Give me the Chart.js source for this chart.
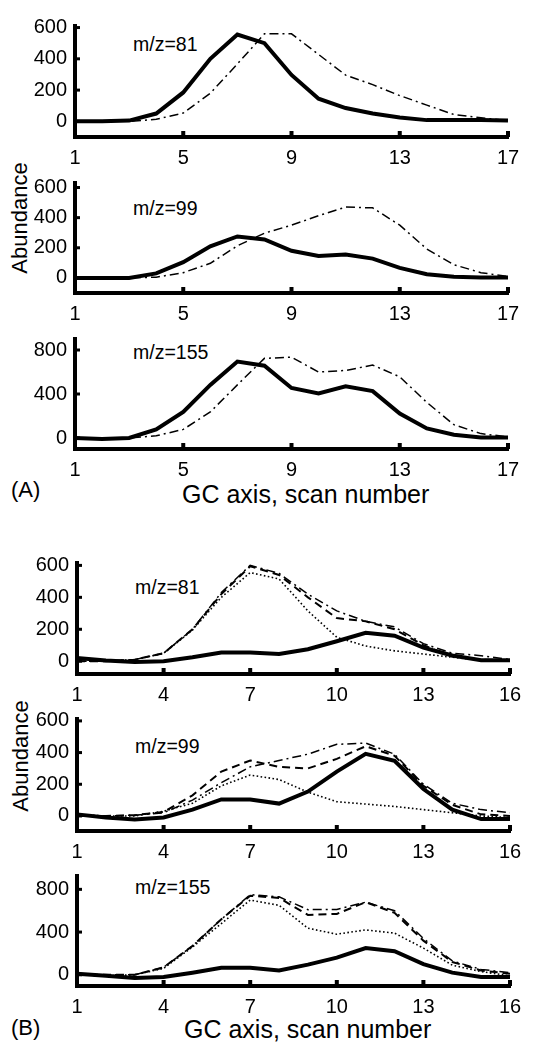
<!DOCTYPE html>
<html>
<head>
<meta charset="utf-8">
<title>GC scans</title>
<script src="https://cdn.jsdelivr.net/npm/chart.js"></script>
<style>
	body {
		margin: 0;
		width: 536px;
		height: 1042px;
		position: relative;
		background: #fff;
		font-family: 'Liberation Sans', Arial, sans-serif;
		color: #000;
		overflow: hidden;
	}
	canvas {
		position: absolute;
		left: 0;
	}
	.txt {
		position: absolute;
		line-height: 1;
		white-space: nowrap;
		transform: translateY(-50%);
	}
	.mz { font-size: 19.5px; }
	.ylab {
		font-size: 22px;
		transform: translate(-50%, -50%) rotate(-90deg);
	}
	.xlab { font-size: 25px; }
	.tag { font-size: 22px; }
</style>
</head>
<body>
<div class="txt mz" style="left:133px;top:45px">m/z=81</div>
<div class="txt mz" style="left:133px;top:209px">m/z=99</div>
<div class="txt mz" style="left:133px;top:353px">m/z=155</div>
<div class="txt ylab" style="left:20px;top:218px">Abundance</div>
<div class="txt tag" style="left:11px;top:490px">(A)</div>
<div class="txt xlab" style="left:182px;top:494px">GC axis, scan number</div>

<div class="txt mz" style="left:135px;top:588px">m/z=81</div>
<div class="txt mz" style="left:135px;top:747px">m/z=99</div>
<div class="txt mz" style="left:135px;top:888px">m/z=155</div>
<div class="txt ylab" style="left:21px;top:756px">Abundance</div>
<div class="txt tag" style="left:11px;top:1028px">(B)</div>
<div class="txt xlab" style="left:184px;top:1029px">GC axis, scan number</div>

<script>
	// scan numbers and tick labels
	const scansA = [1, 2, 3, 4, 5, 6, 7, 8, 9, 10, 11, 12, 13, 14, 15, 16, 17];
	const scansB = [1, 2, 3, 4, 5, 6, 7, 8, 9, 10, 11, 12, 13, 14, 15, 16];
	const xTicksA = [1, 5, 9, 13, 17];
	const xTicksB = [1, 4, 7, 10, 13, 16];
	const yTicks600 = [0, 200, 400, 600];
	const yTicks800 = [0, 400, 800];

	// (A) two profiles per ion
	const a81Solid = [0, 0, 5, 50, 185, 400, 555, 500, 297, 145, 85, 50, 25, 8, 8, 8, 5];
	const a81DashDot = [0, 0, 0, 13, 53, 180, 367, 560, 560, 428, 296, 235, 165, 104, 44, 23, 5];
	const a99Solid = [0, 0, 0, 30, 105, 210, 275, 255, 180, 145, 155, 128, 67, 25, 8, 3, 3];
	const a99DashDot = [0, 0, 0, 5, 35, 97, 213, 297, 350, 413, 470, 465, 350, 192, 88, 35, 10];
	const a155Solid = [0, -10, 0, 78, 237, 483, 695, 657, 455, 405, 470, 426, 223, 87, 29, 5, 5];
	const a155DashDot = [0, 0, 0, 20, 78, 237, 483, 724, 735, 600, 614, 663, 556, 324, 121, 40, 10];

	// (B) four profiles per ion
	const b81Solid = [20, 5, -5, 0, 25, 55, 55, 45, 75, 125, 178, 160, 85, 36, 6, 6];
	const b81Dash = [0, 0, 10, 50, 200, 420, 595, 540, 400, 270, 250, 200, 100, 30, 10, 5];
	const b81DashDot = [0, 0, 10, 50, 200, 430, 600, 550, 420, 315, 250, 215, 110, 50, 35, 10];
	const b81Dotted = [0, 0, 10, 50, 195, 400, 555, 515, 315, 150, 95, 65, 45, 25, 5, 5];

	const b99Solid = [10, -10, -22, -10, 40, 104, 104, 78, 154, 280, 392, 348, 170, 40, -20, -20];
	const b99Dash = [0, 0, 5, 25, 130, 280, 350, 310, 300, 360, 440, 380, 190, 70, 10, 0];
	const b99DashDot = [0, 0, 5, 20, 100, 210, 310, 350, 390, 452, 460, 390, 200, 80, 40, 20];
	const b99Dotted = [10, 0, 0, 30, 80, 190, 258, 230, 150, 90, 75, 60, 40, 20, 0, -10];

	const b155Solid = [10, -10, -30, -20, 20, 65, 65, 40, 95, 160, 250, 220, 100, 20, -20, -20];
	const b155Dash = [0, 0, 0, 70, 270, 520, 740, 720, 560, 570, 680, 580, 320, 120, 40, 10];
	const b155DashDot = [0, 0, 0, 70, 270, 520, 750, 730, 610, 612, 680, 600, 340, 130, 50, 20];
	const b155Dotted = [0, -10, 0, 60, 260, 480, 700, 650, 436, 380, 420, 390, 250, 90, 30, -10];

	const styles = {
		solid: { borderWidth: 4, borderDash: [] },
		dashDot: { borderWidth: 1.5, borderDash: [9, 4, 2, 4] },
		dash: { borderWidth: 2, borderDash: [8, 5] },
		dotted: { borderWidth: 1.6, borderDash: [1.6, 2.4] }
	};

	const panels = [
		{ top: 20, bottom: 137, left: 75, right: 508, scans: scansA, xTicks: xTicksA, yTicks: yTicks600, yMin: -100, yMax: 610,
			series: [[a81DashDot, 'dashDot'], [a81Solid, 'solid']] },
		{ top: 177, bottom: 293, left: 75, right: 508, scans: scansA, xTicks: xTicksA, yTicks: yTicks600, yMin: -100, yMax: 630,
			series: [[a99DashDot, 'dashDot'], [a99Solid, 'solid']] },
		{ top: 333, bottom: 449, left: 75, right: 508, scans: scansA, xTicks: xTicksA, yTicks: yTicks800, yMin: -100, yMax: 900,
			series: [[a155DashDot, 'dashDot'], [a155Solid, 'solid']] },
		{ top: 557, bottom: 674, left: 77, right: 510, scans: scansB, xTicks: xTicksB, yTicks: yTicks600, yMin: -80, yMax: 615,
			series: [[b81Dotted, 'dotted'], [b81Dash, 'dash'], [b81DashDot, 'dashDot'], [b81Solid, 'solid']] },
		{ top: 713, bottom: 831, left: 77, right: 510, scans: scansB, xTicks: xTicksB, yTicks: yTicks600, yMin: -95, yMax: 612,
			series: [[b99Dotted, 'dotted'], [b99Dash, 'dash'], [b99DashDot, 'dashDot'], [b99Solid, 'solid']] },
		{ top: 870, bottom: 986, left: 77, right: 510, scans: scansB, xTicks: xTicksB, yTicks: yTicks800, yMin: -105, yMax: 925,
			series: [[b155Dotted, 'dotted'], [b155Dash, 'dash'], [b155DashDot, 'dashDot'], [b155Solid, 'solid']] }
	];

	// short tick marks pointing into the plot, matlab style
	const innerTicks = {
		id: 'innerTicks',
		afterDraw(chart) {
			const { ctx, chartArea: a } = chart;
			const x = chart.scales.x, y = chart.scales.y;
			ctx.save();
			ctx.fillStyle = '#000';
			x.ticks.forEach(t => {
				const px = x.getPixelForValue(t.value);
				ctx.fillRect(px - 2, a.bottom - 6, 4, 6);
			});
			y.ticks.forEach(t => {
				const py = y.getPixelForValue(t.value);
				ctx.fillRect(a.left, py - 1.5, 5, 3);
			});
			ctx.restore();
		}
	};

	Chart.defaults.font.family = "'Liberation Sans', Arial, sans-serif";
	Chart.defaults.font.size = 20;
	Chart.defaults.color = '#000';

	const padTop = 14;
	const xHeight = 36;

	panels.forEach(p => {
		const cv = document.createElement('canvas');
		cv.width = 536;
		cv.height = padTop + (p.bottom - p.top) + xHeight;
		cv.style.top = (p.top - padTop) + 'px';
		document.body.appendChild(cv);

		new Chart(cv, {
			type: 'line',
			data: {
				datasets: p.series.map(([vals, st]) => ({
					data: p.scans.map((s, i) => ({ x: s, y: vals[i] })),
					borderColor: '#000',
					borderWidth: styles[st].borderWidth,
					borderDash: styles[st].borderDash,
					pointRadius: 0,
					tension: 0,
					fill: false
				}))
			},
			options: {
				responsive: false,
				animation: false,
				clip: false,
				layout: { padding: { top: padTop, right: 536 - p.right, left: 0, bottom: 0 } },
				plugins: { legend: { display: false }, tooltip: { enabled: false } },
				scales: {
					x: {
						type: 'linear',
						min: p.scans[0],
						max: p.scans[p.scans.length - 1],
						grid: { display: false, drawTicks: false },
						border: { display: true, width: 4, color: '#000' },
						ticks: { padding: 9, autoSkip: false, maxRotation: 0 },
						afterBuildTicks: s => { s.ticks = p.xTicks.map(v => ({ value: v })); },
						afterFit: s => { s.height = xHeight; }
					},
					y: {
						min: p.yMin,
						max: p.yMax,
						grid: { display: false, drawTicks: false },
						border: { display: true, width: 4, color: '#000' },
						ticks: { padding: 8, autoSkip: false },
						afterBuildTicks: s => { s.ticks = p.yTicks.map(v => ({ value: v })); },
						afterFit: s => { s.width = p.left; }
					}
				}
			},
			plugins: [innerTicks]
		});
	});
</script>
</body>
</html>
